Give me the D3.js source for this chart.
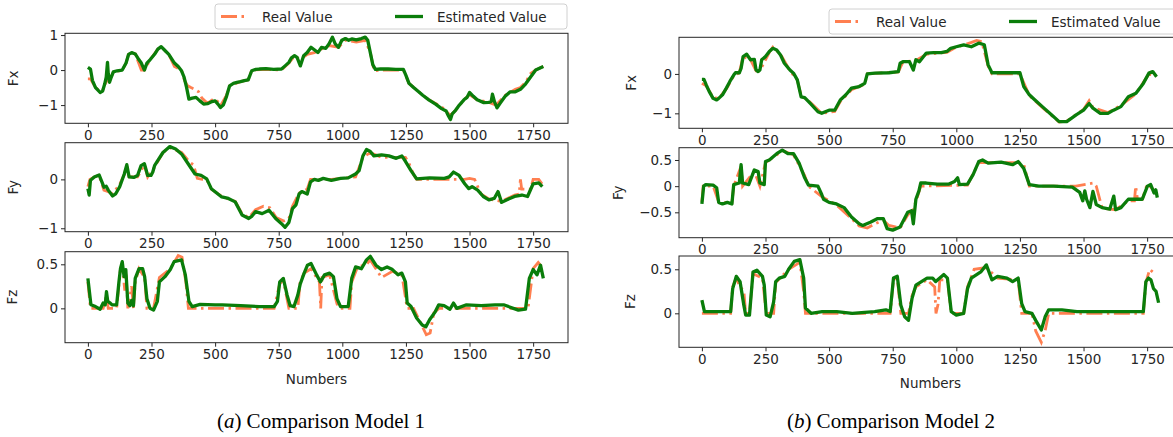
<!DOCTYPE html>
<html><head><meta charset="utf-8">
<script src="https://cdn.jsdelivr.net/npm/d3@7"></script>
<style>body{margin:0;background:#fff}svg{display:block}</style>
</head><body>
<script>
// ---------- DATA ----------
const xTicks = [0,250,500,750,1000,1250,1500,1750];
const legendLabels = ["Real Value","Estimated Value"];
const captions = [["a","Comparison Model 1"],["b","Comparison Model 2"]];
const yLabels = ["Fx","Fy","Fz"];

const yTicksA = [[-1,0,1],[-1,0],[0,0.5]];
const yTicksB = [[-1,0],[-0.5,0,0.5],[0,0.5]];
const yDomainsA = [[-1.52,1.05],[-1.07,0.75],[-0.39,0.643]];
const yDomainsB = [[-1.38,0.93],[-0.985,0.735],[-0.386,0.651]];

// Model 1 - Fx
const fxEstA = [[0,0.08],[10,0.03],[18,-0.3],[30,-0.5],[48,-0.64],[58,-0.6],[66,-0.4],[72,-0.2],[77,0.22],[80,-0.1],[85,-0.35],[92,-0.2],[100,-0.05],[115,-0.02],[135,0.0],[150,0.2],[160,0.45],[172,0.5],[186,0.46],[200,0.3],[210,0.2],[222,0.0],[232,0.2],[245,0.3],[262,0.45],[275,0.6],[288,0.67],[300,0.58],[318,0.45],[340,0.2],[355,0.1],[368,-0.02],[378,-0.2],[388,-0.5],[397,-0.83],[410,-0.8],[425,-0.78],[440,-0.88],[455,-0.97],[470,-0.96],[488,-0.9],[500,-0.88],[512,-0.98],[521,-1.07],[532,-1.0],[545,-0.75],[557,-0.45],[572,-0.38],[586,-0.35],[600,-0.33],[615,-0.3],[630,-0.28],[644,-0.02],[660,0.02],[674,0.03],[700,0.04],[730,0.02],[761,0.03],[775,0.12],[790,0.22],[800,0.35],[812,0.41],[822,0.36],[835,0.12],[848,0.41],[862,0.5],[877,0.65],[890,0.58],[904,0.5],[918,0.65],[935,0.62],[948,0.75],[961,0.94],[972,0.75],[985,0.65],[998,0.85],[1012,0.9],[1025,0.85],[1037,0.89],[1055,0.86],[1075,0.9],[1090,0.94],[1100,0.85],[1110,0.5],[1120,0.15],[1130,0.02],[1150,0.03],[1180,0.03],[1210,0.02],[1240,0.02],[1250,-0.15],[1262,-0.38],[1280,-0.5],[1300,-0.62],[1316,-0.72],[1340,-0.85],[1368,-0.98],[1390,-1.1],[1408,-1.17],[1415,-1.28],[1425,-1.41],[1432,-1.25],[1445,-1.15],[1460,-1.0],[1478,-0.85],[1490,-0.78],[1500,-0.64],[1515,-0.75],[1530,-0.85],[1556,-0.93],[1575,-0.92],[1585,-0.9],[1590,-0.69],[1598,-0.9],[1608,-1.08],[1620,-0.95],[1640,-0.75],[1660,-0.62],[1680,-0.62],[1700,-0.55],[1720,-0.4],[1740,-0.2],[1760,0.0],[1775,0.05],[1790,0.1]];
const fxRealA = [[0,-0.25],[10,-0.25],[18,-0.35],[30,-0.5],[48,-0.6],[58,-0.58],[66,-0.42],[75,-0.3],[85,-0.3],[100,-0.05],[135,0.0],[150,0.2],[160,0.45],[186,0.46],[210,0.0],[222,0.0],[245,0.3],[275,0.6],[288,0.65],[318,0.45],[340,0.1],[368,0.0],[380,-0.3],[392,-0.45],[405,-0.5],[420,-0.55],[435,-0.62],[448,-0.8],[470,-0.95],[495,-0.82],[505,-0.85],[521,-1.02],[545,-0.72],[557,-0.45],[600,-0.33],[630,-0.28],[644,0.0],[700,0.02],[761,0.0],[790,0.2],[812,0.4],[835,0.3],[862,0.45],[890,0.5],[918,0.6],[948,0.7],[985,0.65],[1012,0.85],[1055,0.8],[1090,0.85],[1110,0.5],[1125,-0.02],[1150,0.0],[1240,0.0],[1262,-0.38],[1300,-0.62],[1340,-0.85],[1390,-1.05],[1425,-1.3],[1445,-1.15],[1478,-0.85],[1500,-0.7],[1530,-0.85],[1575,-0.92],[1604,-1.0],[1640,-0.72],[1680,-0.55],[1700,-0.5],[1720,-0.35],[1740,-0.1],[1760,0.0],[1790,0.1]];

// Model 1 - Fy
const fyEstA = [[0,-0.19],[5,-0.32],[10,-0.02],[25,0.05],[44,0.09],[55,-0.05],[63,-0.16],[72,-0.14],[80,-0.22],[97,-0.34],[110,-0.29],[125,-0.15],[143,0.11],[153,0.3],[162,0.05],[180,0.04],[195,0.08],[209,0.28],[222,0.32],[235,0.08],[248,0.08],[255,0.15],[262,0.28],[275,0.39],[295,0.55],[322,0.67],[345,0.62],[368,0.52],[394,0.32],[421,0.11],[445,0.08],[467,0.01],[485,-0.19],[526,-0.36],[552,-0.39],[579,-0.46],[606,-0.73],[632,-0.8],[645,-0.75],[659,-0.66],[685,-0.7],[712,-0.63],[738,-0.8],[760,-0.9],[775,-0.98],[790,-0.88],[804,-0.6],[818,-0.52],[830,-0.3],[841,-0.25],[862,-0.3],[875,-0.05],[890,0.0],[906,-0.02],[925,0.02],[957,-0.02],[993,0.02],[1023,0.03],[1052,0.11],[1066,0.18],[1081,0.48],[1095,0.61],[1110,0.57],[1124,0.48],[1154,0.5],[1183,0.48],[1212,0.43],[1234,0.48],[1248,0.37],[1270,0.18],[1292,0.01],[1343,0.03],[1401,0.02],[1420,0.05],[1437,0.15],[1459,0.08],[1481,-0.09],[1497,-0.19],[1510,-0.15],[1532,-0.22],[1554,-0.35],[1576,-0.42],[1597,-0.39],[1612,-0.25],[1626,-0.47],[1645,-0.42],[1677,-0.35],[1706,-0.32],[1728,-0.35],[1750,-0.09],[1772,-0.07],[1786,-0.15]];
const fyRealA = [[0,-0.15],[8,0.0],[25,0.05],[44,0.08],[63,-0.22],[80,-0.25],[97,-0.3],[125,-0.1],[143,0.1],[153,0.28],[162,0.05],[195,0.05],[222,0.3],[235,0.05],[262,0.25],[295,0.55],[322,0.65],[368,0.55],[400,0.35],[415,0.3],[430,0.02],[450,0.0],[467,0.0],[485,-0.2],[526,-0.35],[579,-0.45],[606,-0.7],[632,-0.78],[659,-0.62],[690,-0.55],[715,-0.58],[740,-0.78],[770,-0.85],[790,-0.8],[804,-0.55],[830,-0.28],[862,-0.2],[875,0.0],[957,0.0],[1052,0.05],[1081,0.45],[1110,0.55],[1154,0.45],[1212,0.45],[1248,0.45],[1262,0.33],[1280,0.1],[1292,0.0],[1480,0.0],[1500,0.02],[1520,0.0],[1545,-0.3],[1576,-0.4],[1626,-0.45],[1677,-0.32],[1695,-0.3],[1700,0.0],[1705,-0.2],[1740,-0.2],[1750,0.0],[1772,0.0],[1786,-0.1]];

// Model 1 - Fz
const fzEstA = [[0,0.34],[12,0.04],[30,0.02],[48,-0.01],[60,0.06],[68,0.04],[73,0.19],[78,0.08],[88,0.06],[95,0.04],[113,0.04],[122,0.3],[128,0.45],[135,0.53],[142,0.36],[149,0.44],[157,0.06],[165,0.03],[172,0.09],[179,0.03],[186,0.34],[201,0.45],[215,0.45],[223,0.36],[232,0.11],[244,0.0],[258,-0.02],[273,0.08],[281,0.3],[303,0.36],[324,0.44],[339,0.53],[368,0.55],[383,0.38],[397,0.08],[410,0.02],[441,0.045],[500,0.04],[528,0.04],[600,0.03],[673,0.02],[732,0.02],[745,0.08],[754,0.3],[768,0.34],[783,0.15],[795,0.03],[810,0.02],[825,0.15],[834,0.27],[850,0.4],[863,0.49],[877,0.51],[899,0.38],[914,0.3],[930,0.38],[950,0.4],[965,0.36],[979,0.11],[993,0.02],[1023,0.02],[1037,0.34],[1052,0.47],[1075,0.45],[1095,0.55],[1110,0.59],[1132,0.49],[1154,0.44],[1176,0.47],[1197,0.44],[1219,0.38],[1234,0.4],[1248,0.3],[1255,0.06],[1270,0.02],[1292,-0.11],[1314,-0.19],[1328,-0.21],[1343,-0.13],[1365,-0.04],[1379,0.04],[1400,0.03],[1423,-0.01],[1437,0.06],[1450,0.0],[1488,0.04],[1546,0.03],[1600,0.04],[1634,0.04],[1692,-0.02],[1720,-0.01],[1735,0.34],[1750,0.44],[1765,0.38],[1779,0.49],[1790,0.34]];
const fzRealA = [[0,0.3],[10,0.0],[60,0.0],[73,0.15],[80,0.0],[113,0.0],[128,0.45],[135,0.5],[145,0.2],[150,0.4],[157,0.0],[172,0.25],[179,0.0],[186,0.3],[201,0.45],[223,0.35],[232,0.0],[258,0.0],[281,0.35],[324,0.45],[355,0.6],[370,0.58],[385,0.3],[395,0.0],[500,0.0],[732,0.0],[754,0.28],[768,0.32],[790,0.0],[825,0.0],[834,0.3],[850,0.4],[877,0.45],[899,0.35],[910,0.3],[915,0.0],[920,0.35],[950,0.38],[979,0.05],[993,0.0],[1030,0.0],[1037,0.3],[1060,0.47],[1095,0.5],[1110,0.55],[1132,0.45],[1154,0.35],[1197,0.42],[1234,0.38],[1255,0.0],[1280,0.0],[1300,-0.12],[1330,-0.3],[1345,-0.28],[1360,-0.05],[1380,0.0],[1730,0.0],[1750,0.45],[1770,0.52],[1790,0.45]];

// Model 2 - Fx
const fxEstB = [[0,-0.14],[8,-0.14],[17,-0.28],[29,-0.45],[44,-0.62],[58,-0.66],[66,-0.62],[81,-0.53],[96,-0.36],[110,-0.19],[125,-0.03],[132,0.03],[147,0.03],[154,0.14],[162,0.44],[176,0.5],[191,0.36],[206,0.37],[213,0.1],[221,0.06],[228,0.1],[235,0.36],[250,0.44],[265,0.57],[279,0.65],[294,0.61],[309,0.48],[324,0.27],[346,0.1],[360,0.02],[375,-0.15],[390,-0.58],[404,-0.6],[426,-0.75],[456,-0.96],[471,-1.0],[485,-0.96],[500,-0.92],[522,-0.92],[544,-0.66],[566,-0.53],[588,-0.36],[618,-0.32],[640,-0.24],[650,0.0],[680,0.02],[735,0.03],[772,0.06],[779,0.27],[790,0.31],[816,0.31],[831,0.1],[841,0.36],[855,0.31],[882,0.53],[911,0.54],[941,0.54],[963,0.57],[978,0.65],[1000,0.69],[1029,0.74],[1059,0.69],[1088,0.78],[1110,0.74],[1125,0.23],[1140,0.03],[1200,0.03],[1250,0.03],[1265,-0.32],[1287,-0.53],[1309,-0.66],[1338,-0.83],[1375,-1.04],[1404,-1.21],[1434,-1.21],[1471,-1.04],[1500,-0.92],[1522,-0.75],[1537,-0.87],[1566,-1.0],[1596,-1.0],[1618,-0.92],[1647,-0.83],[1676,-0.58],[1706,-0.49],[1735,-0.24],[1757,0.02],[1772,0.06],[1787,-0.07]];
const fxRealB = [[0,-0.24],[17,-0.3],[44,-0.6],[66,-0.62],[96,-0.38],[125,-0.05],[147,0.03],[162,0.44],[191,0.36],[213,0.08],[228,0.08],[265,0.55],[279,0.68],[309,0.5],[346,0.08],[375,-0.15],[390,-0.55],[426,-0.72],[471,-1.0],[522,-0.95],[544,-0.7],[588,-0.4],[640,-0.26],[650,0.0],[772,0.05],[790,0.3],[841,0.34],[882,0.5],[963,0.55],[1000,0.68],[1060,0.8],[1080,0.85],[1100,0.82],[1125,0.2],[1140,0.0],[1250,0.0],[1287,-0.55],[1338,-0.85],[1404,-1.22],[1434,-1.2],[1500,-0.9],[1522,-0.68],[1537,-0.85],[1596,-0.98],[1647,-0.8],[1706,-0.5],[1757,0.0],[1787,-0.05]];

// Model 2 - Fy
const fyEstB = [[0,-0.34],[7,0.0],[15,0.03],[44,0.02],[58,-0.03],[66,-0.31],[81,-0.34],[100,-0.31],[118,-0.34],[125,0.03],[147,0.06],[154,0.41],[160,0.06],[184,0.03],[206,0.31],[221,0.28],[228,0.06],[245,0.03],[250,0.47],[265,0.5],[294,0.62],[316,0.69],[338,0.62],[360,0.62],[382,0.44],[404,0.16],[419,0.02],[456,0.0],[471,-0.16],[478,-0.25],[500,-0.31],[529,-0.34],[559,-0.41],[588,-0.59],[618,-0.72],[632,-0.75],[662,-0.69],[691,-0.62],[713,-0.62],[728,-0.81],[750,-0.84],[779,-0.78],[809,-0.5],[824,-0.47],[831,-0.72],[841,-0.25],[853,-0.09],[860,0.06],[882,0.06],[926,0.04],[971,0.04],[993,0.09],[1005,0.16],[1012,0.03],[1044,0.04],[1066,0.22],[1088,0.47],[1103,0.5],[1125,0.44],[1176,0.46],[1221,0.41],[1243,0.47],[1265,0.34],[1287,0.03],[1324,0.0],[1382,0.0],[1456,-0.02],[1485,-0.12],[1497,-0.28],[1505,-0.09],[1512,-0.25],[1525,-0.41],[1537,-0.1],[1550,-0.35],[1573,-0.41],[1603,-0.44],[1619,-0.19],[1626,-0.45],[1647,-0.41],[1676,-0.25],[1706,-0.25],[1731,-0.25],[1751,0.0],[1764,0.03],[1777,-0.13],[1784,-0.07],[1790,-0.22]];
const fyRealB = [[0,-0.3],[5,0.0],[44,0.0],[66,-0.3],[118,-0.32],[125,0.0],[154,0.38],[160,0.0],[206,0.28],[228,0.0],[250,0.45],[294,0.6],[316,0.68],[360,0.6],[404,0.2],[419,0.0],[471,-0.2],[529,-0.36],[588,-0.62],[618,-0.76],[650,-0.8],[680,-0.72],[713,-0.65],[735,-0.75],[779,-0.8],[809,-0.55],[830,-0.45],[841,-0.3],[860,0.0],[1044,0.02],[1088,0.45],[1176,0.45],[1243,0.45],[1265,0.42],[1287,0.0],[1470,0.0],[1540,0.06],[1550,0.0],[1573,-0.42],[1626,-0.45],[1676,-0.28],[1700,-0.28],[1705,0.0],[1712,-0.25],[1731,-0.25],[1751,0.05],[1790,-0.15]];

// Model 2 - Fz
const fzEstB = [[0,0.15],[10,0.02],[47,0.02],[76,0.02],[113,0.02],[121,0.28],[135,0.42],[150,0.36],[165,0.09],[172,-0.02],[187,-0.02],[201,0.47],[216,0.49],[238,0.42],[245,0.32],[253,-0.02],[268,-0.04],[282,0.13],[290,0.36],[304,0.4],[326,0.42],[341,0.5],[363,0.59],[385,0.61],[400,0.4],[407,0.06],[429,0.0],[473,0.02],[530,0.02],[591,0.0],[640,0.01],[679,0.02],[723,0.04],[740,0.02],[753,0.4],[768,0.42],[782,0.09],[797,-0.04],[812,-0.08],[826,0.17],[841,0.32],[863,0.36],[885,0.4],[907,0.4],[919,0.36],[935,0.4],[951,0.44],[965,0.4],[980,0.02],[1000,-0.02],[1029,0.0],[1044,0.28],[1059,0.4],[1096,0.47],[1118,0.55],[1140,0.38],[1162,0.42],[1199,0.4],[1221,0.36],[1243,0.4],[1257,0.11],[1270,0.02],[1297,0.0],[1312,-0.08],[1334,-0.19],[1349,-0.04],[1363,0.04],[1415,0.04],[1474,0.02],[1550,0.02],[1621,0.02],[1700,0.02],[1735,0.02],[1745,0.36],[1755,0.4],[1765,0.38],[1775,0.28],[1785,0.25],[1795,0.12]];
const fzRealB = [[0,0.0],[113,0.0],[121,0.3],[135,0.4],[150,0.3],[165,0.25],[172,0.0],[187,0.0],[201,0.45],[238,0.4],[253,0.0],[282,0.0],[290,0.35],[341,0.5],[385,0.58],[400,0.25],[407,0.0],[740,0.0],[753,0.38],[768,0.4],[782,0.0],[812,0.0],[826,0.2],[841,0.3],[885,0.38],[915,0.3],[920,0.0],[928,0.1],[935,0.38],[965,0.38],[980,0.0],[1029,0.0],[1044,0.3],[1070,0.5],[1118,0.52],[1162,0.4],[1243,0.38],[1257,0.0],[1297,0.0],[1312,-0.2],[1334,-0.33],[1349,-0.2],[1363,0.0],[1735,0.0],[1745,0.35],[1760,0.5],[1780,0.45]];

// ---------- LAYOUT ----------
const W = 1173, H = 437;
const green = "#0a7d0a", coral = "#FF7F50", ink = "#262626";
const FS = 13.5;
const svg = d3.select("body").append("svg").attr("width", W).attr("height", H)
  .style("font-family", "'DejaVu Sans', sans-serif");
svg.append("rect").attr("width", W).attr("height", H).attr("fill", "#fff");

const panels = [
  {L: 65, R: 568, tops: [33.3, 142.7, 251.7], bots: [123.3, 231.7, 342.7], doms: yDomainsA, ticks: yTicksA,
   est: [fxEstA, fyEstA, fzEstA], real: [fxRealA, fyRealA, fzRealA], legTop: 4, labGap: 20},
  {L: 679, R: 1182, tops: [37.3, 147.7, 256], bots: [128.3, 237.7, 347.3], doms: yDomainsB, ticks: yTicksB,
   est: [fxEstB, fyEstB, fzEstB], real: [fxRealB, fyRealB, fzRealB], legTop: 9, labGap: 16}
];
const fmt = v => (Number.isInteger(v) ? String(v) : v.toFixed(1)).replace("-", "\u2212");

panels.forEach((p, pi) => {
  const x = d3.scaleLinear().domain([-90, 1887]).range([p.L, p.R]);
  for (let k = 0; k < 3; k++) {
    const y = d3.scaleLinear().domain(p.doms[k]).range([p.bots[k], p.tops[k]]);
    const g = svg.append("g");
    const cid = "clip" + pi + k;
    svg.append("clipPath").attr("id", cid).append("rect")
      .attr("x", p.L).attr("y", p.tops[k]).attr("width", p.R - p.L).attr("height", p.bots[k] - p.tops[k]);
    const line = d3.line().x(d => x(d[0])).y(d => y(d[1]));
    const pg = g.append("g").attr("clip-path", `url(#${cid})`);
    pg.append("path").datum(p.real[k]).attr("d", line).attr("fill", "none")
      .attr("stroke", coral).attr("stroke-width", 2.8).attr("stroke-dasharray", "16,4.5,2.5,4.5");
    pg.append("path").datum(p.est[k]).attr("d", line).attr("fill", "none")
      .attr("stroke", green).attr("stroke-width", 3.3).attr("stroke-linejoin", "round");
    g.append("rect").attr("x", p.L).attr("y", p.tops[k]).attr("width", p.R - p.L).attr("height", p.bots[k] - p.tops[k])
      .attr("fill", "none").attr("stroke", ink).attr("stroke-width", 1);
    const xa = g.append("g").attr("transform", `translate(0,${p.bots[k]})`)
      .call(d3.axisBottom(x).tickValues(xTicks).tickSize(4).tickPadding(3).tickFormat(d3.format("d")));
    xa.select(".domain").remove();
    xa.selectAll("line").attr("stroke", ink);
    xa.selectAll("text").attr("font-size", FS).attr("fill", ink).attr("font-family", "'DejaVu Sans', sans-serif");
    const ya = g.append("g").attr("transform", `translate(${p.L},0)`)
      .call(d3.axisLeft(y).tickValues(p.ticks[k]).tickSize(4).tickPadding(3).tickFormat(fmt));
    ya.select(".domain").remove();
    ya.selectAll("line").attr("stroke", ink);
    ya.selectAll("text").attr("font-size", FS).attr("fill", ink).attr("font-family", "'DejaVu Sans', sans-serif");
    let minX = 0;
    ya.selectAll("text").each(function(){ const b = this.getBBox(); minX = Math.min(minX, b.x); });
    g.append("text").text(yLabels[k])
      .attr("transform", `translate(${p.L + minX - p.labGap},${(p.tops[k] + p.bots[k]) / 2}) rotate(-90)`)
      .attr("text-anchor", "middle").attr("font-size", FS).attr("fill", ink);
  }
  svg.append("text").text("Numbers").attr("x", (p.L + p.R) / 2).attr("y", p.bots[2] + 41)
    .attr("text-anchor", "middle").attr("font-size", FS).attr("fill", ink);
  const lg = svg.append("g").attr("transform", `translate(${p.R - 353},${p.legTop})`);
  lg.append("rect").attr("width", 352).attr("height", 25).attr("rx", 3)
    .attr("fill", "#fff").attr("fill-opacity", 0.8).attr("stroke", "#d0d0d0");
  lg.append("line").attr("x1", 6).attr("x2", 32).attr("y1", 12.5).attr("y2", 12.5)
    .attr("stroke", coral).attr("stroke-width", 2.8).attr("stroke-dasharray", "16,4.5,2.5,4.5");
  lg.append("text").text(legendLabels[0]).attr("x", 47).attr("y", 17.5).attr("font-size", FS).attr("fill", ink);
  lg.append("line").attr("x1", 180).attr("x2", 208).attr("y1", 12.5).attr("y2", 12.5)
    .attr("stroke", green).attr("stroke-width", 3.3);
  lg.append("text").text(legendLabels[1]).attr("x", 222).attr("y", 17.5).attr("font-size", FS).attr("fill", ink);
});

const capX = [321, 891];
captions.forEach((c, i) => {
  const t = svg.append("text").attr("x", capX[i]).attr("y", 428).attr("text-anchor", "middle")
    .attr("font-family", "'Liberation Serif', 'Times New Roman', serif").attr("font-size", 21).attr("fill", "#000");
  t.append("tspan").text("(");
  t.append("tspan").text(c[0]).attr("font-style", "italic");
  t.append("tspan").text(") " + c[1]);
});
</script>
</body></html>
